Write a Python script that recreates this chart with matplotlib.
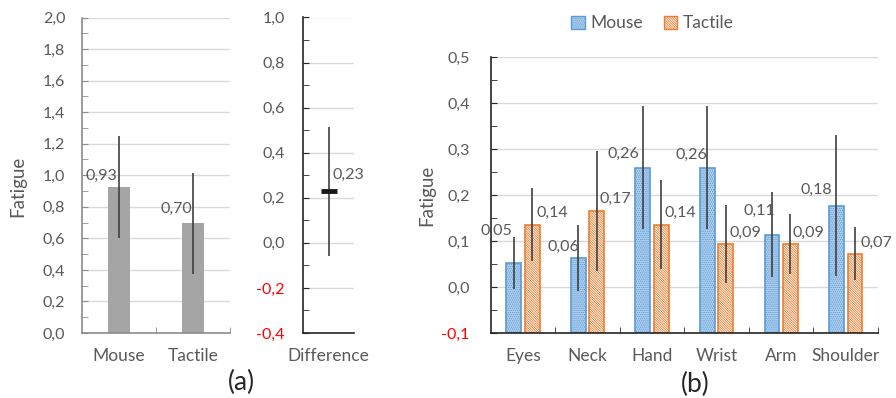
import matplotlib
matplotlib.use("Agg")
import matplotlib.pyplot as plt
from matplotlib.ticker import MultipleLocator, FixedLocator
from matplotlib.patches import Patch

plt.rcParams['font.family'] = ['Lato', 'DejaVu Sans']
plt.rcParams['hatch.linewidth'] = 0.6

# ---- data -------------------------------------------------------------
overall_labels = ["Mouse", "Tactile"]
overall_mean = [0.926, 0.697]
overall_err = [0.325, 0.32]

diff_label = ["Difference"]
diff_mean = [0.228]
diff_err = [0.285]

body_parts = ["Eyes", "Neck", "Hand", "Wrist", "Arm", "Shoulder"]
mouse_mean = [0.053, 0.063, 0.260, 0.260, 0.114, 0.177]
mouse_err = [0.057, 0.072, 0.133, 0.133, 0.093, 0.153]
tactile_mean = [0.136, 0.166, 0.136, 0.094, 0.094, 0.073]
tactile_err = [0.080, 0.130, 0.096, 0.085, 0.066, 0.058]

# ---- styling ----------------------------------------------------------
TXT = "#595959"
GRID = "#d9d9d9"
ERR = "#404040"
BLUE = "#5B9BD5"
BLUE_FILL = "#b0cfee"
ORANGE = "#ED7D31"
NEG = "#FF0000"
DOTS = "." * 8
STRIPES = "\\" * 14

# label offsets (pixels) for the value annotations
mouse_lbl_dy = [32, 11, 14, 13, 24, 16]
mouse_lbl_dx = [-17, -15, -19, -16, -13, -20]
tact_lbl_dy = [12, 12, 12, 11, 11, 11]
tact_lbl_dx = [20, 19, 19, 20, 18, 21]


def fmt(v):
    return f"{v:.2f}".replace(".", ",")


def fmt1(v, _=None):
    return f"{v:.1f}".replace(".", ",")


def style_axis(ax, spine_col, ymin, ymax, major, minor, pad):
    ax.set_ylim(ymin, ymax)
    ax.yaxis.set_major_locator(MultipleLocator(major))
    ax.yaxis.set_minor_locator(MultipleLocator(minor))
    ax.yaxis.set_major_formatter(fmt1)
    ax.grid(axis="y", which="major", color=GRID, linewidth=1.0, zorder=0)
    ax.set_axisbelow(True)
    for s in ("top", "right"):
        ax.spines[s].set_visible(False)
    for s in ("left", "bottom"):
        ax.spines[s].set_color(spine_col)
        ax.spines[s].set_linewidth(1.2)
    ax.tick_params(axis="y", which="both", direction="in", length=4,
                   color=spine_col, labelcolor=TXT, labelsize=11.5, pad=pad)
    ax.tick_params(axis="x", which="major", length=0, labelcolor=TXT,
                   labelsize=12.5, pad=11)
    ax.tick_params(axis="x", which="minor", direction="in", length=4,
                   color=spine_col)
    for lbl in ax.get_yticklabels():
        try:
            if float(lbl.get_text().replace(",", ".").replace("\u2212", "-")) < 0:
                lbl.set_color(NEG)
        except ValueError:
            pass


fig = plt.figure(figsize=(8.96, 3.98), dpi=100)

# ---- (a) overall fatigue ---------------------------------------------
ax1 = fig.add_axes([82 / 896, 65 / 398, 148 / 896, 315.5 / 398])
xa = list(range(len(overall_labels)))
ax1.bar(xa, overall_mean, width=0.3, color="#a5a5a5", zorder=2)
ax1.errorbar(xa, overall_mean, yerr=overall_err, fmt="none", ecolor=ERR,
             elinewidth=1.2, capsize=0, zorder=3)
ax1.set_xlim(-0.5, len(xa) - 0.5)
ax1.set_xticks(xa)
ax1.set_xticklabels(overall_labels)
ax1.xaxis.set_minor_locator(FixedLocator([i + 0.5 for i in range(len(xa))]))
style_axis(ax1, "#8c8c8c", 0, 2.0, 0.2, 0.1, 12)
ax1.set_ylabel("Fatigue", color=TXT, fontsize=13.5)
ax1.yaxis.set_label_coords(-0.38, 0.466)
ax1.annotate(fmt(overall_mean[0]), (xa[0], overall_mean[0]),
             xytext=(-18, 11), textcoords="offset pixels",
             ha="center", va="center", color=TXT, fontsize=11.5)
ax1.annotate(fmt(overall_mean[1]), (xa[1], overall_mean[1]),
             xytext=(-17, 14), textcoords="offset pixels",
             ha="center", va="center", color=TXT, fontsize=11.5)

# ---- (a) difference --------------------------------------------------
ax2 = fig.add_axes([303 / 896, 65 / 398, 51 / 896, 315.5 / 398])
xd = [0]
ax2.errorbar(xd, diff_mean, yerr=diff_err, fmt="none", ecolor=ERR,
             elinewidth=1.2, capsize=0, zorder=3)
ax2.plot(xd, diff_mean, marker="_", markersize=12, markeredgewidth=3.5,
         color="#1a1a1a", linestyle="none", zorder=4)
ax2.set_xlim(-0.5, 0.5)
ax2.set_xticks(xd)
ax2.set_xticklabels(diff_label)
style_axis(ax2, "#262626", -0.4, 1.0, 0.2, 0.1, 13)
ax2.annotate(fmt(diff_mean[0]), (xd[0], diff_mean[0]),
             xytext=(20, 17), textcoords="offset pixels",
             ha="center", va="center", color=TXT, fontsize=11.5)

# ---- (b) by body part ------------------------------------------------
ax3 = fig.add_axes([490.7 / 896, 65 / 398, 387.3 / 896, 275.7 / 398])
ylo_b, yhi_b = -0.1, 0.5
xb = list(range(len(body_parts)))
bw = 0.23
off = 0.143
xm = [x - off for x in xb]
xt = [x + off for x in xb]
# bars rise from the category axis, which crosses at the bottom of the scale
ax3.bar(xm, [v - ylo_b for v in mouse_mean], bottom=ylo_b, width=bw,
        facecolor=BLUE_FILL, edgecolor=BLUE, hatch=DOTS, linewidth=1.2, zorder=2)
ax3.bar(xt, [v - ylo_b for v in tactile_mean], bottom=ylo_b, width=bw,
        facecolor="white", edgecolor=ORANGE, hatch=STRIPES, linewidth=1.2, zorder=2)
ax3.errorbar(xm, mouse_mean, yerr=mouse_err, fmt="none", ecolor=ERR,
             elinewidth=1.2, capsize=0, zorder=3)
ax3.errorbar(xt, tactile_mean, yerr=tactile_err, fmt="none", ecolor=ERR,
             elinewidth=1.2, capsize=0, zorder=3)
ax3.set_xlim(-0.5, len(xb) - 0.5)
ax3.set_xticks(xb)
ax3.set_xticklabels(body_parts)
ax3.xaxis.set_minor_locator(FixedLocator([i + 0.5 for i in range(len(xb))]))
style_axis(ax3, "#262626", ylo_b, yhi_b, 0.1, 0.05, 15)
ax3.set_ylabel("Fatigue", color=TXT, fontsize=13.5)
ax3.yaxis.set_label_coords(-0.143, 0.5)

for i in range(len(xb)):
    ax3.annotate(fmt(mouse_mean[i]), (xm[i], mouse_mean[i]),
                 xytext=(mouse_lbl_dx[i], mouse_lbl_dy[i]),
                 textcoords="offset pixels", ha="center", va="center",
                 color=TXT, fontsize=11.5)
    ax3.annotate(fmt(tactile_mean[i]), (xt[i], tactile_mean[i]),
                 xytext=(tact_lbl_dx[i], tact_lbl_dy[i]),
                 textcoords="offset pixels", ha="center", va="center",
                 color=TXT, fontsize=11.5)

handles = [Patch(facecolor=BLUE_FILL, edgecolor=BLUE, hatch=DOTS, label="Mouse"),
           Patch(facecolor="white", edgecolor=ORANGE, hatch=STRIPES, label="Tactile")]
fig.legend(handles=handles, loc="center", bbox_to_anchor=(0.728, 0.941),
           ncol=2, frameon=False, fontsize=12.5, handlelength=0.8,
           handleheight=0.8, handletextpad=0.3, columnspacing=1.2,
           labelcolor=TXT)

fig.text(0.27, 0.038, "(a)", ha="center", va="center", fontsize=19, color="#262626")
fig.text(0.776, 0.033, "(b)", ha="center", va="center", fontsize=19, color="#262626")

fig.savefig("out.png", dpi=100)
